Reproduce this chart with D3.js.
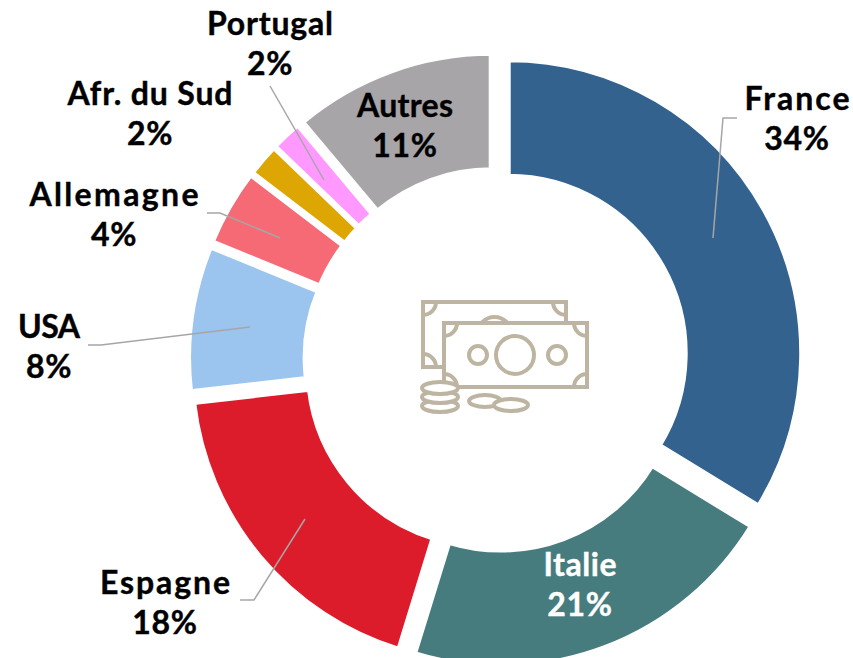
<!DOCTYPE html>
<html><head><meta charset="utf-8">
<script src="https://cdn.jsdelivr.net/npm/d3@7"></script>
<style>html,body{margin:0;padding:0;background:#fff}svg{display:block}</style>
</head><body><svg id="c" width="853" height="658"></svg>
<script>
const categories=["France","Italie","Espagne","USA","Allemagne","Afr. du Sud","Portugal","Autres"];
const shares=[33.7,21.0,18.4,8.0,4.2,1.8,1.7,11.1];
const shownPercent=[34,21,18,8,4,2,2,11];
const colors=["#33628F","#477C7E","#DC1C2A","#9BC4EE","#F56A75","#DEA603","#FF99FF","#A8A5A8"];
const labelColors=["#000","#fff","#000","#000","#000","#000","#000","#000"];
const labelX=[797,580,165,49,114,150,270,405];
const labelY=[110,576,594,338,206,105,35,117];
const labelWidths=[105,73,130,62,169,165,126,96];
const leaders=[
 [[713,238],[723,118],[737,118]],
 null,
 [[305,519],[254,600],[240,600]],
 [[250,327],[101,345],[88,345]],
 [[280,238],[220,213],[207,213]],
 null,
 [[324,180],[270,86]],
 null];
const cx=496,cy=360,R=293.5,r0=177,explode=14,FS=32,gapStroke=5;
const svg=d3.select("#c");
const pie=d3.pie().sort(null).value(d=>d);
const arc=d3.arc().innerRadius(r0).outerRadius(R);
const g=svg.append("g").attr("transform",`translate(${cx},${cy})`);
g.selectAll("path").data(pie(shares)).join("path")
 .attr("d",arc).attr("fill",(d,i)=>colors[i]).attr("stroke","#fff").attr("stroke-width",gapStroke)
 .attr("transform",d=>{const a=(d.startAngle+d.endAngle)/2;return `translate(${explode*Math.sin(a)},${-explode*Math.cos(a)})`;});
const line=d3.line();
svg.append("g").selectAll("path").data(leaders.filter(Boolean)).join("path")
 .attr("d",line).attr("fill","none").attr("stroke","#A6A6A6").attr("stroke-width",1.5);
const t=svg.append("g").attr("font-family","Lato, sans-serif").attr("font-weight",700).attr("font-size",FS).attr("stroke-width",0.4).attr("text-anchor","middle");
categories.forEach((c,i)=>{
 t.append("text").attr("x",labelX[i]).attr("y",labelY[i]).attr("fill",labelColors[i]).attr("stroke",labelColors[i]).attr("textLength",labelWidths[i]).attr("lengthAdjust","spacing").text(c);
 t.append("text").attr("x",labelX[i]).attr("y",labelY[i]+40).attr("letter-spacing",0.7).attr("fill",labelColors[i]).attr("stroke",labelColors[i]).text(shownPercent[i]+"%");
});
const ic=svg.append("g").attr("fill","none").attr("stroke","#BDB5A2").attr("stroke-width",4);
function note(x,y,w,h,fill){
 ic.append("rect").attr("x",x).attr("y",y).attr("width",w).attr("height",h).attr("fill",fill);
 const q=13;
 ic.append("path").attr("d",`M${x},${y+q}A${q},${q} 0 0 0 ${x+q},${y}M${x+w-q},${y}A${q},${q} 0 0 0 ${x+w},${y+q}M${x},${y+h-q}A${q},${q} 0 0 1 ${x+q},${y+h}M${x+w-q},${y+h}A${q},${q} 0 0 1 ${x+w},${y+h-q}`);
}
note(423,302,143,65,"none");
ic.append("circle").attr("cx",494.5).attr("cy",334).attr("r",17);
note(444,323,143,64,"#fff");
[[515,355,19],[478,355,9],[557,355,9]].forEach(c=>ic.append("circle").attr("cx",c[0]).attr("cy",c[1]).attr("r",c[2]));
[[440,406,18,6],[440,397,18,6],[440,388,18,6],[485,401,16,6],[511,405,17,6]].forEach(e=>
 ic.append("ellipse").attr("cx",e[0]).attr("cy",e[1]).attr("rx",e[2]).attr("ry",e[3]).attr("fill","#fff"));
</script></body></html>
